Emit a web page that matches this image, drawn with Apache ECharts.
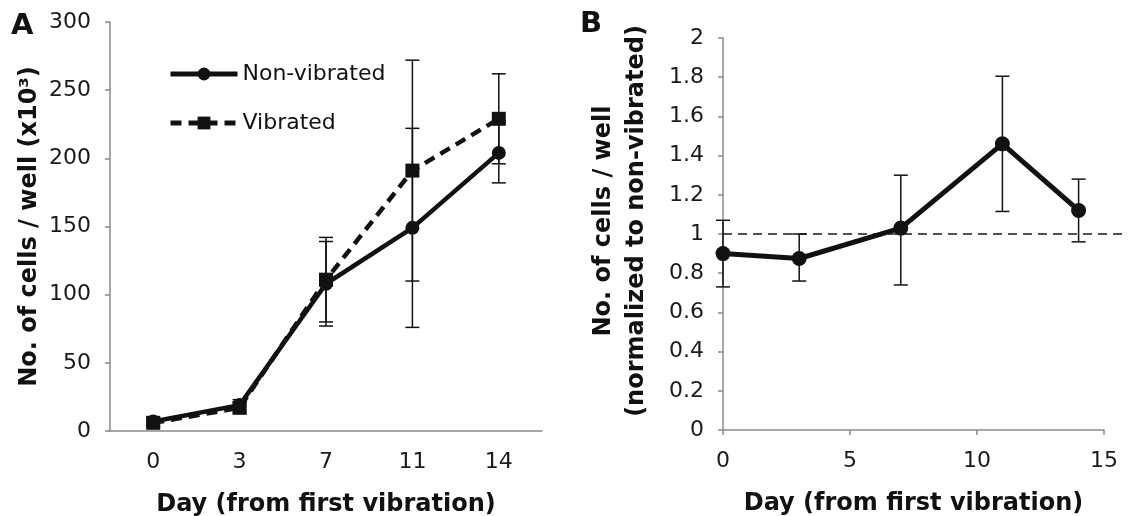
<!DOCTYPE html>
<html>
<head>
<meta charset="utf-8">
<script src="https://cdn.jsdelivr.net/npm/echarts@6.0.0/dist/echarts.min.js"></script>
<style>
	html, body { margin: 0; padding: 0; background: #fff; }
	#chart { width: 1128px; height: 516px; }
</style>
</head>
<body>
<div id="chart"></div>
<script>
// panel A: cells per well (x10^3)
const daysA = ["0", "3", "7", "11", "14"];
const nonVibrated = [7, 19, 108, 149, 204];
const nonVibratedErr = [3, 4, 31, 73, 22];
const vibrated = [6, 17, 111, 191, 229];
const vibratedErr = [3, 4, 31, 81, 33];

// panel B: normalized to non-vibrated
const daysB = [0, 3, 7, 11, 14];
const ratio = [0.9, 0.875, 1.03, 1.46, 1.12];
const ratioLow = [0.73, 0.76, 0.74, 1.115, 0.96];
const ratioHigh = [1.07, 1.0, 1.3, 1.805, 1.28];
// reference level runs past the last tick, to the edge of the figure
const baseline = [[0, 1], [16, 1]];

const FONT = "DejaVu Sans";
const INK = "#111";
const AXIS = "#8a8a8a";

function errorBar(params, api) {
	let x = api.value(0);
	let top = api.coord([x, api.value(2)]);
	let bot = api.coord([x, api.value(1)]);
	let w = 7;
	let style = { stroke: INK, lineWidth: 1.5 };
	return {
		type: "group",
		children: [
			{ type: "line", shape: { x1: top[0], y1: top[1], x2: bot[0], y2: bot[1] }, style: style },
			{ type: "line", shape: { x1: top[0] - w, y1: top[1], x2: top[0] + w, y2: top[1] }, style: style },
			{ type: "line", shape: { x1: bot[0] - w, y1: bot[1], x2: bot[0] + w, y2: bot[1] }, style: style }
		]
	};
}

let axisLine = { lineStyle: { color: AXIS, width: 1.5 } };
let axisTick = { length: 5, lineStyle: { color: AXIS, width: 1.5 } };
let tickLabel = { color: "#1a1a1a", fontSize: 22, fontFamily: FONT };
let titleStyle = { color: INK, fontSize: 24, fontWeight: "bold", fontFamily: FONT };

let chart = echarts.init(document.getElementById("chart"));
chart.setOption({
	animation: false,
	textStyle: { fontFamily: FONT },
	graphic: [
		{ type: "text", left: 11, top: 12, style: { text: "A", fontSize: 29, fontWeight: "bold", fontFamily: FONT, fill: INK } },
		{ type: "text", left: 580, top: 10, style: { text: "B", fontSize: 29, fontWeight: "bold", fontFamily: FONT, fill: INK } }
	],
	legend: {
		orient: "vertical",
		left: 168,
		top: 63,
		padding: 0,
		itemWidth: 67,
		itemHeight: 16,
		itemGap: 27,
		lineStyle: { width: 5 },
		textStyle: { color: "#111", fontSize: 22, fontFamily: FONT },
		data: ["Non-vibrated", "Vibrated"]
	},
	grid: [
		{ left: 110, top: 22, width: 432, height: 409, outerBoundsMode: "none", containLabel: false },
		{ left: 723, top: 38, width: 381, height: 392, outerBoundsMode: "none", containLabel: false },
		// same scale as panel B, but wide enough to hold the baseline
		{ left: 723, top: 38, width: 406.4, height: 392, outerBoundsMode: "none", containLabel: false }
	],
	xAxis: [
		{
			gridIndex: 0,
			type: "category",
			data: daysA,
			boundaryGap: true,
			axisLine: axisLine,
			axisTick: axisTick,
			axisLabel: Object.assign({ margin: 20 }, tickLabel),
			name: "Day (from first vibration)",
			nameLocation: "middle",
			nameGap: 62,
			nameTextStyle: titleStyle
		},
		{
			gridIndex: 1,
			type: "value",
			min: 0,
			max: 15,
			interval: 5,
			splitLine: { show: false },
			axisLine: axisLine,
			axisTick: axisTick,
			axisLabel: Object.assign({ margin: 20 }, tickLabel),
			name: "Day (from first vibration)",
			nameLocation: "middle",
			nameGap: 62,
			nameTextStyle: titleStyle
		},
		{ gridIndex: 2, type: "value", min: 0, max: 16, show: false }
	],
	yAxis: [
		{
			gridIndex: 0,
			type: "value",
			min: 0,
			max: 300,
			interval: 50,
			splitLine: { show: false },
			axisLine: Object.assign({ show: true }, axisLine),
			axisTick: Object.assign({ show: true }, axisTick),
			axisLabel: Object.assign({ margin: 19 }, tickLabel),
			name: "No. of cells / well (x10³)",
			nameLocation: "middle",
			nameGap: 68,
			nameTextStyle: titleStyle
		},
		{
			gridIndex: 1,
			type: "value",
			min: 0,
			max: 2,
			interval: 0.2,
			splitLine: { show: false },
			axisLine: Object.assign({ show: true }, axisLine),
			axisTick: Object.assign({ show: true }, axisTick),
			axisLabel: Object.assign({ margin: 19 }, tickLabel),
			name: "No. of cells / well\n(normalized to non-vibrated)",
			nameLocation: "middle",
			nameGap: 70,
			nameTextStyle: Object.assign({ lineHeight: 33, padding: [0, 0, 0, 26] }, titleStyle)
		},
		{ gridIndex: 2, type: "value", min: 0, max: 2, show: false }
	],
	series: [
		{
			type: "custom",
			xAxisIndex: 0,
			yAxisIndex: 0,
			renderItem: errorBar,
			encode: { x: 0, y: [1, 2] },
			z: 1,
			data: daysA.map((d, i) => [i, nonVibrated[i] - nonVibratedErr[i], nonVibrated[i] + nonVibratedErr[i]])
		},
		{
			type: "custom",
			xAxisIndex: 0,
			yAxisIndex: 0,
			renderItem: errorBar,
			encode: { x: 0, y: [1, 2] },
			z: 1,
			data: daysA.map((d, i) => [i, vibrated[i] - vibratedErr[i], vibrated[i] + vibratedErr[i]])
		},
		{
			name: "Vibrated",
			type: "line",
			xAxisIndex: 0,
			yAxisIndex: 0,
			data: vibrated,
			symbol: "rect",
			symbolSize: 14,
			z: 3,
			itemStyle: { color: INK },
			lineStyle: { color: INK, width: 4.5, type: [11, 7] }
		},
		{
			name: "Non-vibrated",
			type: "line",
			xAxisIndex: 0,
			yAxisIndex: 0,
			data: nonVibrated,
			symbol: "circle",
			symbolSize: 14,
			z: 4,
			itemStyle: { color: INK },
			lineStyle: { color: INK, width: 4.5 }
		},
		{
			type: "line",
			xAxisIndex: 2,
			yAxisIndex: 2,
			data: baseline,
			symbol: "none",
			z: 1,
			lineStyle: { color: "#1a1a1a", width: 1.5, type: [9, 6] }
		},
		{
			type: "custom",
			xAxisIndex: 1,
			yAxisIndex: 1,
			renderItem: errorBar,
			encode: { x: 0, y: [1, 2] },
			z: 2,
			data: daysB.map((d, i) => [d, ratioLow[i], ratioHigh[i]])
		},
		{
			type: "line",
			xAxisIndex: 1,
			yAxisIndex: 1,
			data: daysB.map((d, i) => [d, ratio[i]]),
			symbol: "circle",
			symbolSize: 15,
			z: 4,
			itemStyle: { color: INK },
			lineStyle: { color: INK, width: 5 }
		}
	]
});
</script>
</body>
</html>
